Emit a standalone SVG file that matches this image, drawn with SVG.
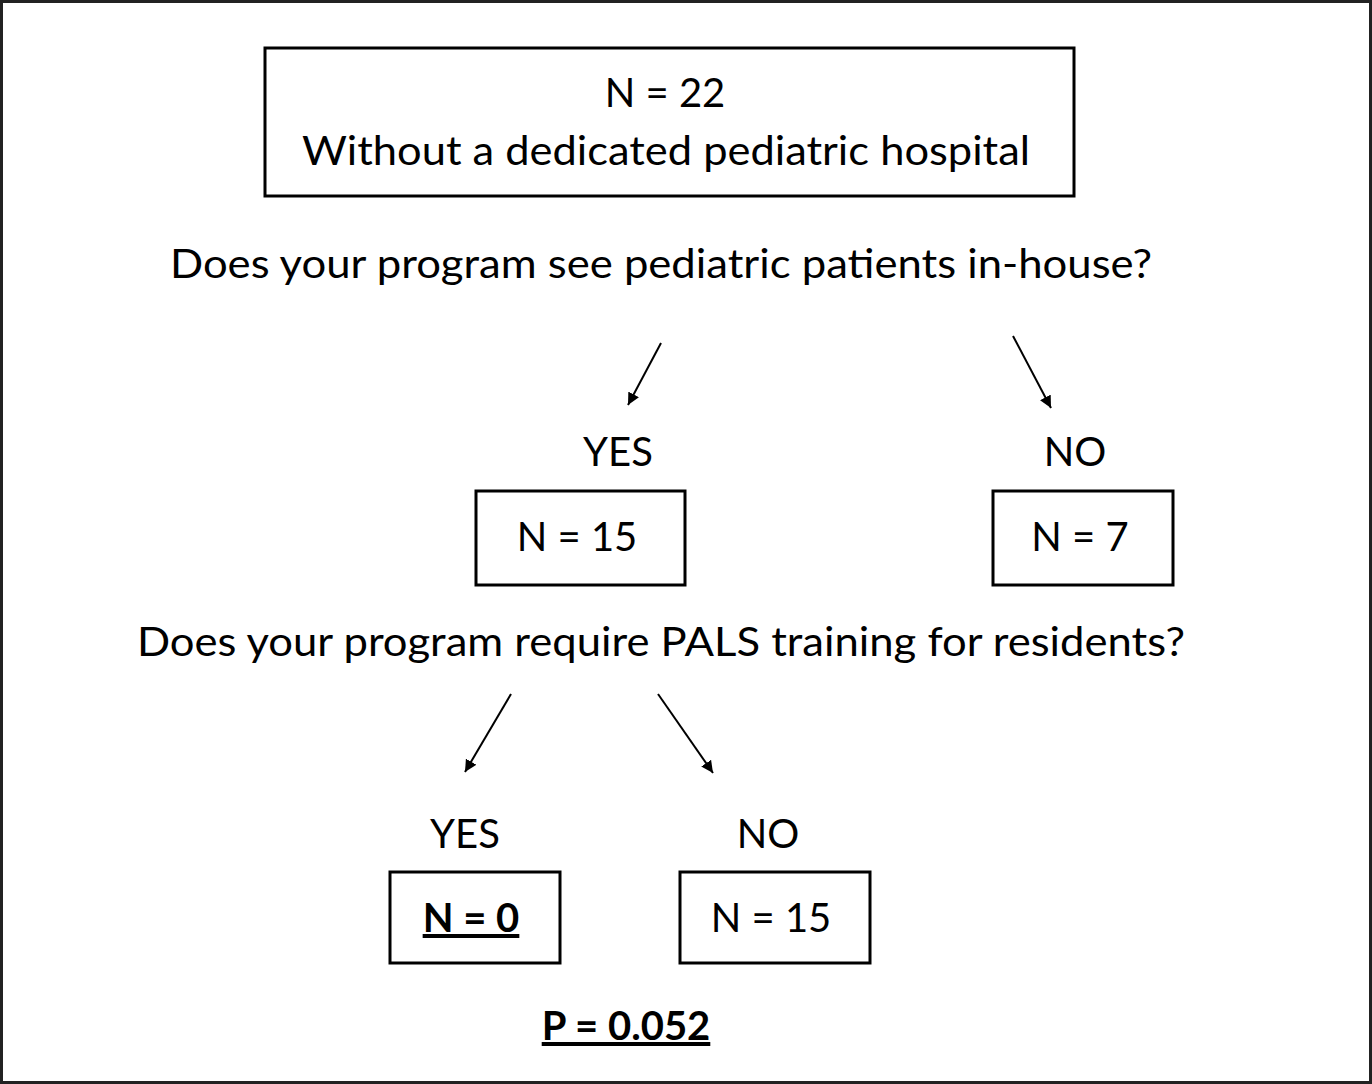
<svg xmlns="http://www.w3.org/2000/svg" width="1372" height="1084" viewBox="0 0 1372 1084">
<style>
.t{font-family:Lato,"Open Sans","Liberation Sans",sans-serif;font-size:40px;fill:#000;text-anchor:middle}
.b{font-weight:bold;text-decoration:underline}
.box{fill:#fff;stroke:#000;stroke-width:3}
.c{stroke:#000;stroke-width:2;fill:none;marker-end:url(#ah)}
</style>
<defs><marker id="ah" markerWidth="12" markerHeight="12" refX="10" refY="5" orient="auto" markerUnits="userSpaceOnUse" viewBox="0 0 10 10"><path d="M0,0 L10,5 L0,10 z" fill="#000" transform="scale(1)"/></marker></defs>
<rect x="0" y="0" width="1372" height="1084" fill="#fff"/>
<rect x="1.5" y="1.5" width="1369" height="1081" fill="none" stroke="#222" stroke-width="3"/>
<g id="root"><rect class="box" x="265" y="48" width="809" height="148"/>
<text class="t" x="665" y="107">N = 22</text>
<text class="t" x="666" y="165" textLength="728" lengthAdjust="spacingAndGlyphs">Without a dedicated pediatric hospital</text></g>
<g id="q1"><text class="t" x="661" y="278" textLength="982" lengthAdjust="spacingAndGlyphs">Does your program see pediatric patients in-house?</text></g>
<g id="yes1"><text class="t" x="618" y="466">YES</text><rect class="box" x="476" y="491" width="209" height="94"/><text class="t" x="577" y="551">N = 15</text></g>
<g id="no1"><text class="t" x="1075" y="466">NO</text><rect class="box" x="993" y="491" width="180" height="94"/><text class="t" x="1080" y="551">N = 7</text></g>
<g id="q2"><text class="t" x="661" y="656" textLength="1048" lengthAdjust="spacingAndGlyphs">Does your program require PALS training for residents?</text></g>
<g id="yes2"><text class="t" x="465" y="848">YES</text><rect class="box" x="390" y="872" width="170" height="91"/><text class="t b" x="471" y="932">N = 0</text></g>
<g id="no2"><text class="t" x="768" y="848">NO</text><rect class="box" x="680" y="872" width="190" height="91"/><text class="t" x="771" y="932">N = 15</text></g>
<g id="p"><text class="t b" x="626" y="1040">P = 0.052</text></g>
<g id="connectors">
<line class="c" x1="661" y1="343" x2="628" y2="405"/>
<line class="c" x1="1013" y1="336" x2="1051" y2="408"/>
<line class="c" x1="511" y1="694" x2="465" y2="772"/>
<line class="c" x1="658" y1="694" x2="713" y2="773"/>
</g>
</svg>
